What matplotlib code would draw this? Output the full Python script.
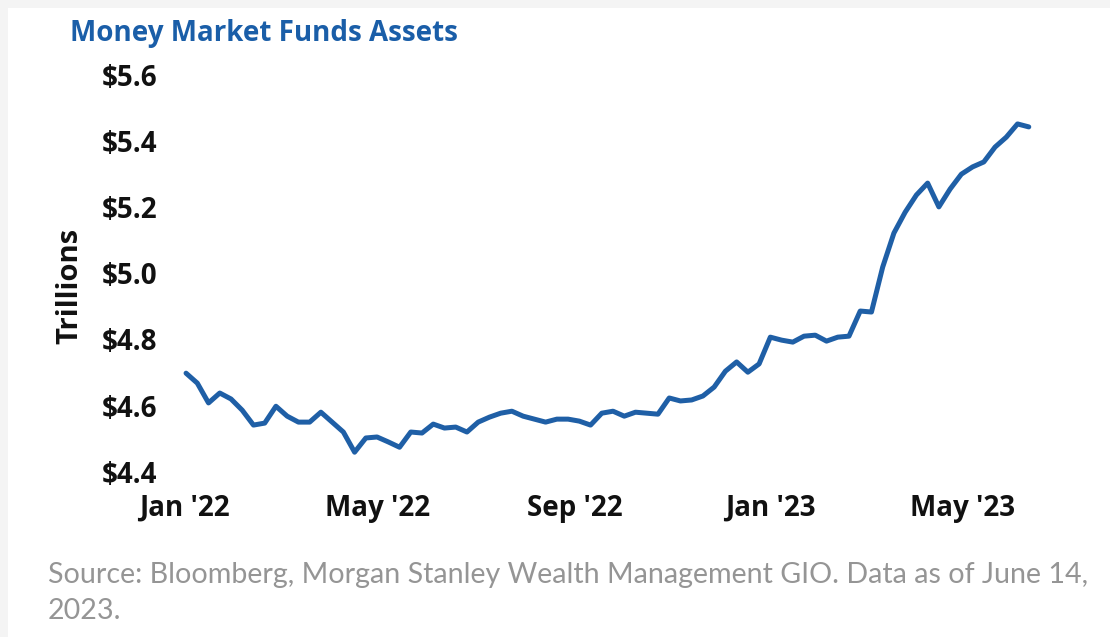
import matplotlib
matplotlib.use("Agg")
import matplotlib.pyplot as plt
from matplotlib.patches import Rectangle
import pandas as pd

# ---- data (weekly, trillions USD) ----
start_date = "2022-01-02"
assets = [4.698, 4.668, 4.608, 4.638, 4.620, 4.586, 4.541, 4.547, 4.598, 4.568,
          4.550, 4.550, 4.580, 4.550, 4.520, 4.459, 4.502, 4.505, 4.490, 4.474,
          4.520, 4.517, 4.544, 4.532, 4.535, 4.520, 4.550, 4.565, 4.577, 4.583,
          4.568, 4.559, 4.550, 4.559, 4.559, 4.553, 4.541, 4.577, 4.583, 4.568,
          4.580, 4.577, 4.574, 4.623, 4.614, 4.617, 4.629, 4.656, 4.704, 4.732,
          4.701, 4.726, 4.807, 4.798, 4.792, 4.810, 4.813, 4.795, 4.807, 4.810,
          4.886, 4.883, 5.019, 5.122, 5.185, 5.237, 5.273, 5.201, 5.255, 5.300,
          5.322, 5.337, 5.382, 5.412, 5.452, 5.443]
dates = pd.date_range(start_date, periods=len(assets), freq="7D")

y_ticks = [4.4, 4.6, 4.8, 5.0, 5.2, 5.4, 5.6]
y_tick_labels = ["$4.4", "$4.6", "$4.8", "$5.0", "$5.2", "$5.4", "$5.6"]
x_tick_dates = ["2022-01-01", "2022-05-01", "2022-09-01", "2023-01-01", "2023-05-01"]
x_tick_labels = ["Jan '22", "May '22", "Sep '22", "Jan '23", "May '23"]

title = "Money Market Funds Assets"
y_label = "Trillions"
source = "Source: Bloomberg, Morgan Stanley Wealth Management GIO. Data as of June 14,\n2023."

W, H = 1110, 637
fig = plt.figure(figsize=(W / 100, H / 100), dpi=100, facecolor="#f4f4f4")
fig.patches.append(Rectangle((8 / W, 0), 1, 1 - 8 / H, transform=fig.transFigure,
                             facecolor="white", edgecolor="none", zorder=-10))

left_px, right_px = 170, 1040
top_px, bottom_px = 75, 471.7
ax = fig.add_axes([left_px / W, 1 - bottom_px / H, (right_px - left_px) / W, (bottom_px - top_px) / H])
ax.set_facecolor("none")

ax.plot(dates, assets, color="#1f5fa6", lw=3.6, solid_joinstyle="round", solid_capstyle="round")

ax.set_ylim(4.4, 5.6)
ax.set_xlim(pd.Timestamp("2021-12-23"), pd.Timestamp("2023-06-18"))
ax.set_yticks(y_ticks)
ax.set_yticklabels(y_tick_labels)
ax.set_xticks(pd.to_datetime(x_tick_dates))
ax.set_xticklabels(x_tick_labels)

for s in ax.spines.values():
    s.set_visible(False)
ax.tick_params(axis="both", length=0, labelsize=20, labelcolor="#111111")
ax.tick_params(axis="y", pad=9)
ax.tick_params(axis="x", pad=16)
for lab in ax.get_xticklabels() + ax.get_yticklabels():
    lab.set_fontfamily("Open Sans")
    lab.set_fontweight("bold")

fig.text(70 / W, 1 - 286 / H, y_label, rotation=90, ha="center", va="center",
         fontsize=21, fontweight="bold", family="Open Sans", color="#111111")

fig.text(70 / W, 1 - 33 / H, title, ha="left", va="center", fontsize=20,
         fontweight="bold", family="Open Sans", color="#1a5ea8")

fig.text(48 / W, 1 - 593 / H, source, ha="left", va="center", fontsize=20.6,
         family="Lato", fontweight="normal", color="#959595", linespacing=1.5)

fig.savefig("out.png", dpi=100, facecolor=fig.get_facecolor())
